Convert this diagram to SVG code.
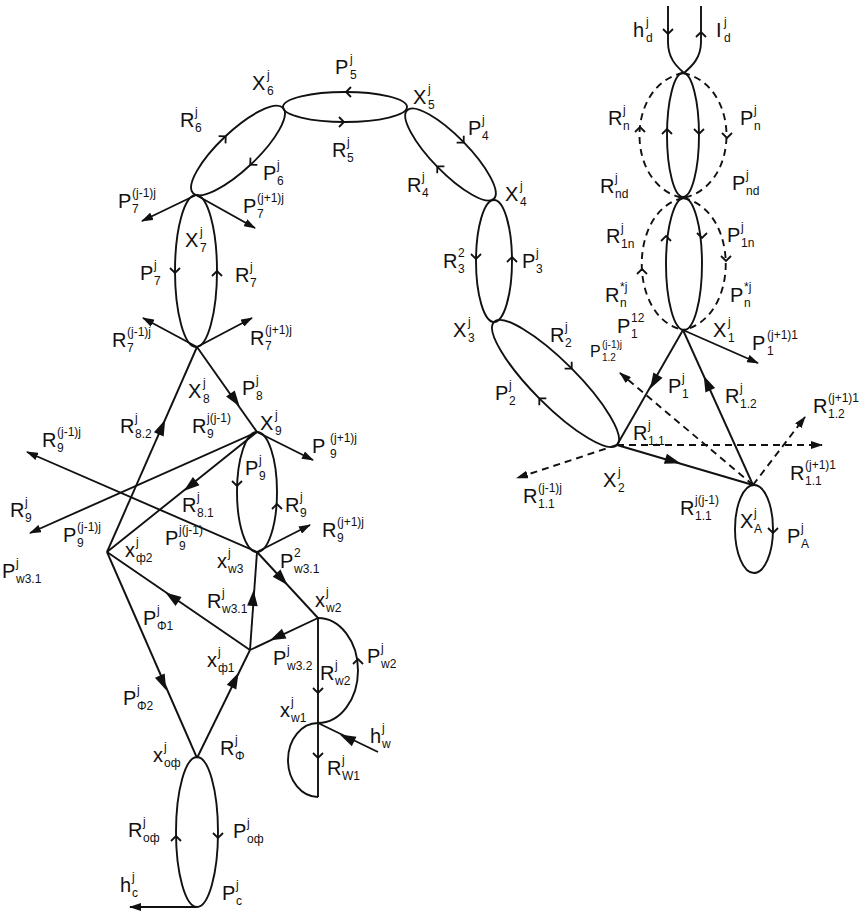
<svg xmlns="http://www.w3.org/2000/svg" xmlns:xlink="http://www.w3.org/1999/xlink" width="868" height="916" viewBox="0 0 868 916">
<style>
text{font-family:"Liberation Sans",Arial,sans-serif;font-size:20px;fill:#111}
.s{font-size:12px}
.sm{font-size:16px}
.sm .s{font-size:10px}
.ln{stroke:#111;stroke-width:1.9;fill:none}
.d{stroke-dasharray:7,5}
</style>
<defs>
<marker id="ah" viewBox="0 0 12 8" refX="11" refY="4" markerWidth="12" markerHeight="8" markerUnits="userSpaceOnUse" orient="auto"><path d="M0,0 L12,4 L0,8 Z" fill="#111"/></marker>
<path id="tri" d="M5,0 L-7,-4 L-7,4 Z" fill="#111"/>
<path id="chev" d="M-4,-5 L1,0 L-4,5" fill="none" stroke="#111" stroke-width="1.8"/>
</defs>
<rect width="868" height="916" fill="#fff"/>

<g id="connectors" class="ln">
<line x1="197" y1="347" x2="107" y2="552"/>
<line x1="197" y1="347" x2="257" y2="432"/>
<line x1="257" y1="432" x2="313" y2="460" marker-end="url(#ah)"/>
<line x1="257" y1="432" x2="30" y2="533" marker-end="url(#ah)"/>
<line x1="257" y1="432" x2="107" y2="552"/>
<line x1="257" y1="552" x2="27" y2="452" marker-end="url(#ah)"/>
<line x1="257" y1="552" x2="310" y2="525" marker-end="url(#ah)"/>
<line x1="196" y1="195" x2="142" y2="221" marker-end="url(#ah)"/>
<line x1="196" y1="195" x2="255" y2="228" marker-end="url(#ah)"/>
<line x1="197" y1="347" x2="143" y2="318" marker-end="url(#ah)"/>
<line x1="197" y1="347" x2="252" y2="318" marker-end="url(#ah)"/>
<line x1="257" y1="552" x2="318" y2="618"/>
<line x1="250" y1="650" x2="257" y2="552"/>
<line x1="250" y1="650" x2="107" y2="552"/>
<line x1="318" y1="618" x2="250" y2="650"/>
<line x1="107" y1="552" x2="197" y2="758"/>
<line x1="197" y1="758" x2="250" y2="650"/>
<line x1="378" y1="752" x2="318" y2="723"/>
<line x1="197" y1="907" x2="130" y2="907" marker-end="url(#ah)"/>
<line x1="318" y1="618" x2="318" y2="797"/>
<path d="M318,618 A40,52.5 0 0 1 318,723"/>
<path d="M318,723 A30,37 0 0 0 318,797"/>
<line x1="683" y1="330" x2="758" y2="363" marker-end="url(#ah)"/>
<line x1="683" y1="330" x2="617" y2="445"/>
<line x1="753" y1="485" x2="683" y2="330"/>
<line x1="617" y1="445" x2="753" y2="485"/>
<line class="d" x1="753" y1="485" x2="620" y2="373" marker-end="url(#ah)"/>
<line class="d" x1="753" y1="485" x2="805" y2="417" marker-end="url(#ah)"/>
<line class="d" x1="617" y1="445" x2="822" y2="445" marker-end="url(#ah)"/>
<line class="d" x1="617" y1="445" x2="517" y2="478" marker-end="url(#ah)"/>
<path d="M668,6 L668,42 C668,58 676,66 684,73"/>
<path d="M701,6 L701,42 C701,58 692,66 684,73"/>
<use xlink:href="#tri" href="#tri" transform="translate(162,427) rotate(-66.3)"/>
<use xlink:href="#tri" href="#tri" transform="translate(235,400) rotate(54.8)"/>
<use xlink:href="#tri" href="#tri" transform="translate(190,486) rotate(141.3)"/>
<use xlink:href="#tri" href="#tri" transform="translate(282,579) rotate(47.3)"/>
<use xlink:href="#tri" href="#tri" transform="translate(253,598) rotate(-85.9)"/>
<use xlink:href="#tri" href="#tri" transform="translate(172,597) rotate(-145.6)"/>
<use xlink:href="#tri" href="#tri" transform="translate(277,637) rotate(154.8)"/>
<use xlink:href="#tri" href="#tri" transform="translate(163,683) rotate(66.4)"/>
<use xlink:href="#tri" href="#tri" transform="translate(235,680) rotate(-63.9)"/>
<use xlink:href="#tri" href="#tri" transform="translate(347,738) rotate(205.8)"/>
<use xlink:href="#tri" href="#tri" transform="translate(654,382) rotate(119.9)"/>
<use xlink:href="#tri" href="#tri" transform="translate(707,383) rotate(-114.3)"/>
<use xlink:href="#tri" href="#tri" transform="translate(673,461) rotate(16.4)"/>
<use xlink:href="#chev" href="#chev" transform="translate(318,692) rotate(90)"/>
<use xlink:href="#chev" href="#chev" transform="translate(318,757) rotate(90)"/>
<use xlink:href="#chev" href="#chev" transform="translate(358,660) rotate(-90)"/>
<use xlink:href="#chev" href="#chev" transform="translate(668,33) rotate(90)"/>
<use xlink:href="#chev" href="#chev" transform="translate(701,33) rotate(-90)"/>
</g>

<g id="loop5">
<ellipse class="ln" cx="345" cy="107" rx="62" ry="15"/>
<use xlink:href="#chev" href="#chev" transform="translate(347,92) rotate(180)"/>
<use xlink:href="#chev" href="#chev" transform="translate(343,122)"/>
</g>
<g id="loop6">
<ellipse class="ln" cx="238" cy="150.5" rx="62" ry="19" transform="rotate(-43.4 238 150.5)"/>
<use xlink:href="#chev" href="#chev" transform="translate(225,137) rotate(-43.4)"/>
<use xlink:href="#chev" href="#chev" transform="translate(251,164) rotate(136.6)"/>
</g>
<g id="loop4">
<ellipse class="ln" cx="450.5" cy="154.5" rx="62" ry="18" transform="rotate(45.6 450.5 154.5)"/>
<use xlink:href="#chev" href="#chev" transform="translate(463,142) rotate(45.6)"/>
<use xlink:href="#chev" href="#chev" transform="translate(438,167) rotate(-134.4)"/>
</g>
<g id="loop7">
<ellipse class="ln" cx="196" cy="271" rx="21" ry="76"/>
<use xlink:href="#chev" href="#chev" transform="translate(175,272) rotate(90)"/>
<use xlink:href="#chev" href="#chev" transform="translate(217,272) rotate(-90)"/>
</g>
<g id="loop9">
<ellipse class="ln" cx="257" cy="492" rx="20" ry="60"/>
<use xlink:href="#chev" href="#chev" transform="translate(237,485) rotate(90)"/>
<use xlink:href="#chev" href="#chev" transform="translate(277,505) rotate(-90)"/>
</g>
<g id="loop3">
<ellipse class="ln" cx="494" cy="261" rx="18" ry="61"/>
<use xlink:href="#chev" href="#chev" transform="translate(476,258) rotate(90)"/>
<use xlink:href="#chev" href="#chev" transform="translate(512,258) rotate(-90)"/>
</g>
<g id="loop2">
<ellipse class="ln" cx="555.5" cy="383.5" rx="87" ry="22" transform="rotate(45 555.5 383.5)"/>
<use xlink:href="#chev" href="#chev" transform="translate(571,368) rotate(45)"/>
<use xlink:href="#chev" href="#chev" transform="translate(540,399) rotate(-135)"/>
</g>
<g id="loopN">
<ellipse class="ln" cx="683" cy="135" rx="16" ry="62"/>
<path class="ln d" d="M683,73 C625,85 625,186 683,198 M683,73 C741,85 741,186 683,198"/>
<use xlink:href="#chev" href="#chev" transform="translate(667,130) rotate(-90)"/>
<use xlink:href="#chev" href="#chev" transform="translate(699,133) rotate(90)"/>
<use xlink:href="#chev" href="#chev" transform="translate(640,128) rotate(-90)"/>
<use xlink:href="#chev" href="#chev" transform="translate(727,137) rotate(90)"/>
</g>
<g id="loop1n">
<ellipse class="ln" cx="684" cy="264" rx="18" ry="66"/>
<path class="ln d" d="M683,198 C628,210 628,318 683,330 M683,198 C740,210 740,318 683,330"/>
<use xlink:href="#chev" href="#chev" transform="translate(666,237) rotate(-90)"/>
<use xlink:href="#chev" href="#chev" transform="translate(702,237) rotate(90)"/>
<use xlink:href="#chev" href="#chev" transform="translate(642,270) rotate(-90)"/>
<use xlink:href="#chev" href="#chev" transform="translate(726,260) rotate(90)"/>
</g>
<g id="loopA">
<ellipse class="ln" cx="754" cy="529" rx="19" ry="44"/>
<use xlink:href="#chev" href="#chev" transform="translate(773,532) rotate(90)"/>
</g>
<g id="loopOf">
<ellipse class="ln" cx="197" cy="832" rx="21" ry="75"/>
<use xlink:href="#chev" href="#chev" transform="translate(176,837) rotate(-90)"/>
<use xlink:href="#chev" href="#chev" transform="translate(218,837) rotate(90)"/>
</g>

<g id="labels">
<text x="335" y="74">P<tspan class="s" x="350" dy="-11">j</tspan><tspan class="s" x="350" dy="16">5</tspan></text>
<text x="252" y="90">X<tspan class="s" x="267" dy="-11">j</tspan><tspan class="s" x="267" dy="16">6</tspan></text>
<text x="413" y="104">X<tspan class="s" x="428" dy="-11">j</tspan><tspan class="s" x="428" dy="16">5</tspan></text>
<text x="332" y="157">R<tspan class="s" x="347" dy="-11">j</tspan><tspan class="s" x="347" dy="16">5</tspan></text>
<text x="180" y="127">R<tspan class="s" x="195" dy="-11">j</tspan><tspan class="s" x="195" dy="16">6</tspan></text>
<text x="263" y="180">P<tspan class="s" x="277" dy="-11">j</tspan><tspan class="s" x="277" dy="16">6</tspan></text>
<text x="468" y="135">P<tspan class="s" x="482" dy="-11">j</tspan><tspan class="s" x="482" dy="16">4</tspan></text>
<text x="407" y="192">R<tspan class="s" x="422" dy="-11">j</tspan><tspan class="s" x="422" dy="16">4</tspan></text>
<text x="505" y="201">X<tspan class="s" x="520" dy="-11">j</tspan><tspan class="s" x="520" dy="16">4</tspan></text>
<text x="443" y="268">R<tspan class="s" x="458" dy="-11">2</tspan><tspan class="s" x="458" dy="16">3</tspan></text>
<text x="522" y="268">P<tspan class="s" x="536" dy="-11">j</tspan><tspan class="s" x="536" dy="16">3</tspan></text>
<text x="453" y="337">X<tspan class="s" x="468" dy="-11">j</tspan><tspan class="s" x="468" dy="16">3</tspan></text>
<text x="550" y="342">R<tspan class="s" x="565" dy="-11">j</tspan><tspan class="s" x="565" dy="16">2</tspan></text>
<text x="495" y="400">P<tspan class="s" x="509" dy="-11">j</tspan><tspan class="s" x="509" dy="16">2</tspan></text>
<text x="633" y="37">h<tspan class="s" x="646" dy="-11">j</tspan><tspan class="s" x="646" dy="16">d</tspan></text>
<text x="716" y="37">I<tspan class="s" x="724" dy="-11">j</tspan><tspan class="s" x="724" dy="16">d</tspan></text>
<text x="608" y="125">R<tspan class="s" x="623" dy="-11">j</tspan><tspan class="s" x="623" dy="16">n</tspan></text>
<text x="740" y="125">P<tspan class="s" x="754" dy="-11">j</tspan><tspan class="s" x="754" dy="16">n</tspan></text>
<text x="600" y="193">R<tspan class="s" x="615" dy="-11">j</tspan><tspan class="s" x="615" dy="16">nd</tspan></text>
<text x="732" y="190">P<tspan class="s" x="746" dy="-11">j</tspan><tspan class="s" x="746" dy="16">nd</tspan></text>
<text x="606" y="243">R<tspan class="s" x="621" dy="-11">j</tspan><tspan class="s" x="621" dy="16">1n</tspan></text>
<text x="727" y="242">P<tspan class="s" x="741" dy="-11">j</tspan><tspan class="s" x="741" dy="16">1n</tspan></text>
<text x="605" y="302">R<tspan class="s" x="620" dy="-11">*j</tspan><tspan class="s" x="620" dy="16">n</tspan></text>
<text x="730" y="302">P<tspan class="s" x="744" dy="-11">*j</tspan><tspan class="s" x="744" dy="16">n</tspan></text>
<text x="617" y="333">P<tspan class="s" x="631" dy="-11">12</tspan><tspan class="s" x="631" dy="16">1</tspan></text>
<text x="713" y="337">X<tspan class="s" x="728" dy="-11">j</tspan><tspan class="s" x="728" dy="16">1</tspan></text>
<text x="752" y="350">P<tspan class="s" x="767" dy="-11">(j+1)1</tspan><tspan class="s" x="767" dy="16">1</tspan></text>
<text class="sm" x="590" y="357">P<tspan class="s" x="602" dy="-9">(j-1)j</tspan><tspan class="s" x="602" dy="13">1.2</tspan></text>
<text x="668" y="393">P<tspan class="s" x="682" dy="-11">j</tspan><tspan class="s" x="682" dy="16">1</tspan></text>
<text x="725" y="403">R<tspan class="s" x="740" dy="-11">j</tspan><tspan class="s" x="740" dy="16">1.2</tspan></text>
<text x="813" y="413">R<tspan class="s" x="828" dy="-11">(j+1)1</tspan><tspan class="s" x="828" dy="16">1.2</tspan></text>
<text x="633" y="440">R<tspan class="s" x="648" dy="-11">j</tspan><tspan class="s" x="648" dy="16">1.1</tspan></text>
<text x="790" y="480">R<tspan class="s" x="805" dy="-11">(j+1)1</tspan><tspan class="s" x="805" dy="16">1.1</tspan></text>
<text x="603" y="487">X<tspan class="s" x="618" dy="-11">j</tspan><tspan class="s" x="618" dy="16">2</tspan></text>
<text x="523" y="503">R<tspan class="s" x="538" dy="-11">(j-1)j</tspan><tspan class="s" x="538" dy="16">1.1</tspan></text>
<text x="680" y="515">R<tspan class="s" x="695" dy="-11">j(j-1)</tspan><tspan class="s" x="695" dy="16">1.1</tspan></text>
<text x="740" y="528">X<tspan class="s" x="754" dy="-11">j</tspan><tspan class="s" x="754" dy="16">A</tspan></text>
<text x="787" y="543">P<tspan class="s" x="801" dy="-11">j</tspan><tspan class="s" x="801" dy="16">A</tspan></text>
<text x="118" y="208">P<tspan class="s" x="132" dy="-11">(j-1)j</tspan><tspan class="s" x="132" dy="16">7</tspan></text>
<text x="243" y="213">P<tspan class="s" x="257" dy="-11">(j+1)j</tspan><tspan class="s" x="257" dy="16">7</tspan></text>
<text x="185" y="247">X<tspan class="s" x="200" dy="-11">j</tspan><tspan class="s" x="200" dy="16">7</tspan></text>
<text x="140" y="280">P<tspan class="s" x="154" dy="-11">j</tspan><tspan class="s" x="154" dy="16">7</tspan></text>
<text x="235" y="282">R<tspan class="s" x="250" dy="-11">j</tspan><tspan class="s" x="250" dy="16">7</tspan></text>
<text x="112" y="347">R<tspan class="s" x="127" dy="-11">(j-1)j</tspan><tspan class="s" x="127" dy="16">7</tspan></text>
<text x="250" y="345">R<tspan class="s" x="265" dy="-11">(j+1)j</tspan><tspan class="s" x="265" dy="16">7</tspan></text>
<text x="188" y="398">X<tspan class="s" x="203" dy="-11">j</tspan><tspan class="s" x="203" dy="16">8</tspan></text>
<text x="242" y="395">P<tspan class="s" x="256" dy="-11">j</tspan><tspan class="s" x="256" dy="16">8</tspan></text>
<text x="120" y="433">R<tspan class="s" x="135" dy="-11">j</tspan><tspan class="s" x="135" dy="16">8.2</tspan></text>
<text x="192" y="433">R<tspan class="s" x="207" dy="-11">j(j-1)</tspan><tspan class="s" x="207" dy="16">9</tspan></text>
<text x="260" y="430">X<tspan class="s" x="275" dy="-11">j</tspan><tspan class="s" x="275" dy="16">9</tspan></text>
<text x="312" y="453">P<tspan class="s" x="330" dy="-11">(j+1)j</tspan><tspan class="s" x="330" dy="16">9</tspan></text>
<text x="42" y="447">R<tspan class="s" x="57" dy="-11">(j-1)j</tspan><tspan class="s" x="57" dy="16">9</tspan></text>
<text x="245" y="475">P<tspan class="s" x="259" dy="-11">j</tspan><tspan class="s" x="259" dy="16">9</tspan></text>
<text x="10" y="517">R<tspan class="s" x="25" dy="-11">j</tspan><tspan class="s" x="25" dy="16">9</tspan></text>
<text x="182" y="512">R<tspan class="s" x="197" dy="-11">j</tspan><tspan class="s" x="197" dy="16">8.1</tspan></text>
<text x="285" y="512">R<tspan class="s" x="300" dy="-11">j</tspan><tspan class="s" x="300" dy="16">9</tspan></text>
<text x="322" y="537">R<tspan class="s" x="337" dy="-11">(j+1)j</tspan><tspan class="s" x="337" dy="16">9</tspan></text>
<text x="63" y="542">P<tspan class="s" x="77" dy="-11">(j-1)j</tspan><tspan class="s" x="77" dy="16">9</tspan></text>
<text x="165" y="545">P<tspan class="s" x="179" dy="-11">j(j-1)</tspan><tspan class="s" x="179" dy="16">9</tspan></text>
<text x="2" y="578">P<tspan class="s" x="16" dy="-11">j</tspan><tspan class="s" x="16" dy="16">w3.1</tspan></text>
<text x="125" y="557">x<tspan class="s" x="136" dy="-11">j</tspan><tspan class="s" x="136" dy="16">ф2</tspan></text>
<text x="280" y="568">P<tspan class="s" x="294" dy="-11">2</tspan><tspan class="s" x="294" dy="16">w3.1</tspan></text>
<text x="217" y="568">x<tspan class="s" x="228" dy="-11">j</tspan><tspan class="s" x="228" dy="16">w3</tspan></text>
<text x="315" y="607">x<tspan class="s" x="326" dy="-11">j</tspan><tspan class="s" x="326" dy="16">w2</tspan></text>
<text x="207" y="608">R<tspan class="s" x="222" dy="-11">j</tspan><tspan class="s" x="222" dy="16">w3.1</tspan></text>
<text x="143" y="625">P<tspan class="s" x="157" dy="-11">j</tspan><tspan class="s" x="157" dy="16">Φ1</tspan></text>
<text x="207" y="667">x<tspan class="s" x="218" dy="-11">j</tspan><tspan class="s" x="218" dy="16">ф1</tspan></text>
<text x="273" y="665">P<tspan class="s" x="287" dy="-11">j</tspan><tspan class="s" x="287" dy="16">w3.2</tspan></text>
<text x="367" y="663">P<tspan class="s" x="381" dy="-11">j</tspan><tspan class="s" x="381" dy="16">w2</tspan></text>
<text x="320" y="680">R<tspan class="s" x="335" dy="-11">j</tspan><tspan class="s" x="335" dy="16">w2</tspan></text>
<text x="123" y="705">P<tspan class="s" x="137" dy="-11">j</tspan><tspan class="s" x="137" dy="16">Φ2</tspan></text>
<text x="280" y="717">x<tspan class="s" x="291" dy="-11">j</tspan><tspan class="s" x="291" dy="16">w1</tspan></text>
<text x="370" y="743">h<tspan class="s" x="382" dy="-11">j</tspan><tspan class="s" x="382" dy="16">w</tspan></text>
<text x="220" y="755">R<tspan class="s" x="235" dy="-11">j</tspan><tspan class="s" x="235" dy="16">Φ</tspan></text>
<text x="153" y="762">x<tspan class="s" x="164" dy="-11">j</tspan><tspan class="s" x="164" dy="16">oф</tspan></text>
<text x="327" y="775">R<tspan class="s" x="342" dy="-11">j</tspan><tspan class="s" x="342" dy="16">W1</tspan></text>
<text x="128" y="837">R<tspan class="s" x="143" dy="-11">j</tspan><tspan class="s" x="143" dy="16">oф</tspan></text>
<text x="233" y="838">P<tspan class="s" x="247" dy="-11">j</tspan><tspan class="s" x="247" dy="16">oф</tspan></text>
<text x="120" y="892">h<tspan class="s" x="132" dy="-11">j</tspan><tspan class="s" x="132" dy="16">c</tspan></text>
<text x="222" y="900">P<tspan class="s" x="236" dy="-11">j</tspan><tspan class="s" x="236" dy="16">c</tspan></text>
</g>
</svg>
